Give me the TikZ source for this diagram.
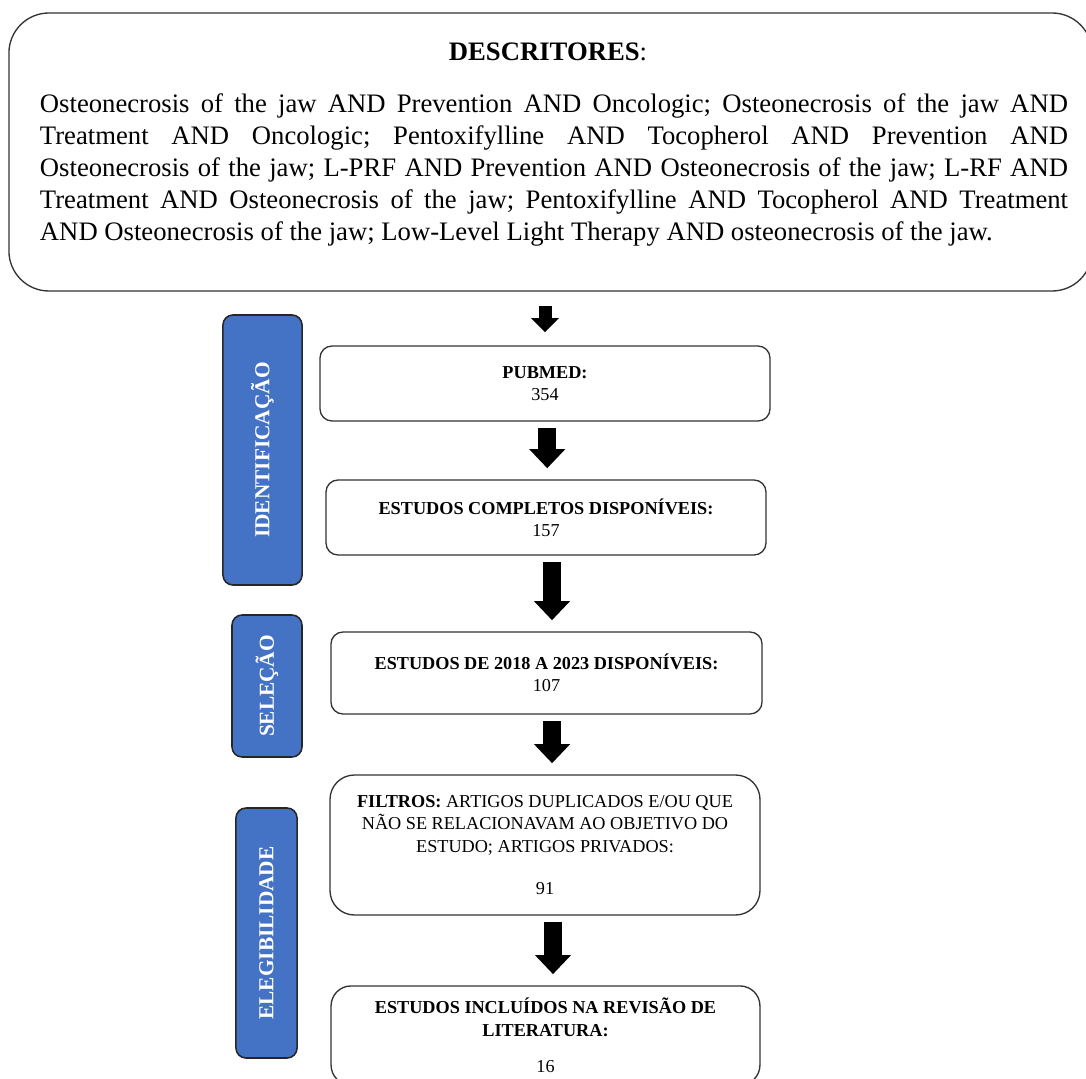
\documentclass[tikz,border=0pt]{standalone}
\usepackage{fontspec}
\setmainfont{Liberation Serif}
\usetikzlibrary{arrows.meta}
\definecolor{faseazul}{HTML}{4472C4}
\frenchspacing

\begin{document}
\begin{tikzpicture}[x=0.45pt,y=-0.45pt,
  etapa/.style={draw=black!80, line width=0.6pt, rounded corners=5.4pt, align=center,
    font=\fontsize{8.2}{10.1}\selectfont, inner sep=2pt},
  fase/.style={draw=black!85, line width=0.7pt, fill=faseazul, rounded corners=4.5pt, rotate=90,
    text=white, font=\bfseries\fontsize{9.6}{11}\selectfont, inner sep=0pt},
  seta/.style={line width=8pt, -{Triangle[width=15.75pt,length=8.6pt]}, shorten <=3pt, shorten >=5pt},
  setinha/.style={line width=5.85pt, -{Triangle[width=12.15pt,length=6.3pt]}, shorten <=6.3pt, shorten >=5.9pt}]
\useasboundingbox (0,0) rectangle (1086,1079);

\node[draw=black!80, line width=0.6pt, rounded corners=18pt, minimum width=487.4pt, minimum height=125.1pt] (descr) at (550.5,152) {};
\node[font=\fontsize{12}{14.4}\selectfont] (titulo) at (548,52) {\textbf{DESCRITORES}:};
\node[text width=462.6pt, align=justify, inner sep=0pt, font=\fontsize{12}{14.4}\selectfont] (termos) at (554,170)
  {Osteonecrosis of the jaw AND Prevention AND Oncologic; Osteonecrosis of the jaw AND\linebreak
   Treatment AND Oncologic; Pentoxifylline AND Tocopherol AND Prevention AND\linebreak
   Osteonecrosis of the jaw; L-PRF AND Prevention AND Osteonecrosis of the jaw; L-RF AND\linebreak
   Treatment AND Osteonecrosis of the jaw; Pentoxifylline AND Tocopherol AND Treatment\linebreak
   AND Osteonecrosis of the jaw; Low-Level Light Therapy AND osteonecrosis of the jaw.};

% fases
\node[fase, minimum width=121.5pt, minimum height=35.6pt] (ident) at (262.5,450) {IDENTIFICAÇÃO};
\node[fase, minimum width=63.9pt, minimum height=31.5pt] (selecao) at (267,686) {SELEÇÃO};
\node[fase, minimum width=112.5pt, minimum height=27.5pt] (eleg) at (266.5,933) {ELEGIBILIDADE};

% etapas
\node[etapa, minimum width=202.5pt, minimum height=33.75pt] (pubmed) at (545,383.5) {\textbf{PUBMED:}\\354};
\node[etapa, minimum width=198pt, minimum height=33.75pt] (completos) at (546,517.5) {\textbf{ESTUDOS COMPLETOS DISPONÍVEIS:}\\157};
\node[etapa, minimum width=194pt, minimum height=36.9pt] (periodo) at (546.5,673) {\textbf{ESTUDOS DE 2018 A 2023 DISPONÍVEIS:}\\107};
\node[etapa, rounded corners=11pt, minimum width=193.5pt, minimum height=63pt] (filtros) at (545,845)
  {\textbf{FILTROS:} ARTIGOS DUPLICADOS E/OU QUE\\NÃO SE RELACIONAVAM AO OBJETIVO DO\\ESTUDO; ARTIGOS PRIVADOS:\\[8.8pt]91};
\node[etapa, rounded corners=9pt, minimum width=193pt, minimum height=44.6pt] (incluidos) at (545.5,1035.5)
  {\textbf{ESTUDOS INCLUÍDOS NA REVISÃO DE}\\\textbf{LITERATURA:}\\[6.3pt]16};

% setas
\draw[setinha] (descr.south -| pubmed.north) -- (pubmed.north);
\draw[seta] ([xshift=1pt]pubmed.south) -- ([xshift=1pt]pubmed.south |- completos.north);
\draw[seta] ([xshift=2.7pt]completos.south) -- ([xshift=2.7pt]completos.south |- periodo.north);
\draw[seta] ([xshift=2.5pt]periodo.south) -- ([xshift=2.5pt]periodo.south |- filtros.north);
\draw[seta] ([xshift=3.6pt]filtros.south) -- ([xshift=3.6pt]filtros.south |- incluidos.north);
\end{tikzpicture}
\end{document}
